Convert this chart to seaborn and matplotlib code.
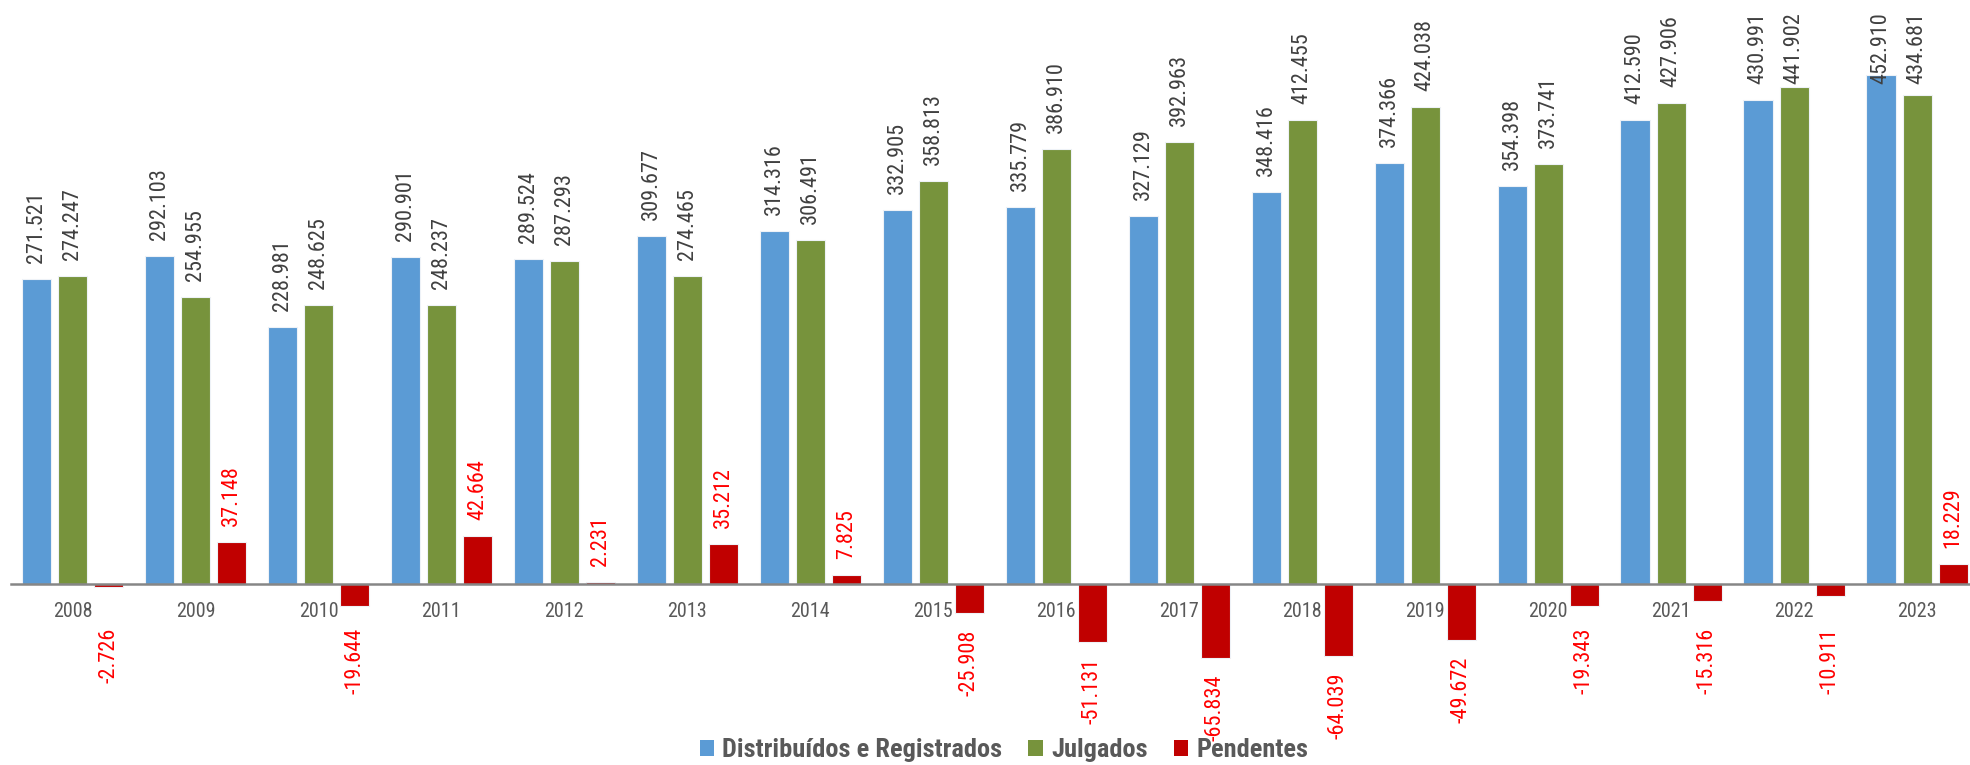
import pandas as pd
import matplotlib
matplotlib.use("Agg")
import matplotlib.pyplot as plt
import seaborn as sns
from matplotlib.patches import Patch

# dados
anos = ['2008', '2009', '2010', '2011', '2012', '2013', '2014', '2015',
        '2016', '2017', '2018', '2019', '2020', '2021', '2022', '2023']
distribuidos = [271521, 292103, 228981, 290901, 289524, 309677, 314316, 332905,
                335779, 327129, 348416, 374366, 354398, 412590, 430991, 452910]
julgados = [274247, 254955, 248625, 248237, 287293, 274465, 306491, 358813,
            386910, 392963, 412455, 424038, 373741, 427906, 441902, 434681]
pendentes = [-2726, 37148, -19644, 42664, 2231, 35212, 7825, -25908,
             -51131, -65834, -64039, -49672, -19343, -15316, -10911, 18229]
series = ['Distribuídos e Registrados', 'Julgados', 'Pendentes']
cores = ['#5B9BD5', '#77933C', '#C00000']

df = pd.DataFrame({
    'Ano': anos * 3,
    'Serie': [series[0]] * 16 + [series[1]] * 16 + [series[2]] * 16,
    'Valor': distribuidos + julgados + pendentes,
})

sns.set_style('white')
plt.rcParams['font.family'] = ['Roboto Condensed', 'DejaVu Sans']

fig = plt.figure(figsize=(19.7, 7.65), dpi=100)
ax = fig.add_axes([11 / 1970, 0, 1 - 11 / 1970, 1])

sns.barplot(data=df, x='Ano', y='Valor', hue='Serie', palette=cores,
            saturation=1, width=0.88, gap=0.19, ax=ax, legend=False,
            edgecolor='#EEF2F7', linewidth=0.8)

ax.set_xlim(-0.5, 15.43)
ax.set_ylim(-161000, 519600)
ax.set_xlabel('')
ax.set_ylabel('')
ax.set_yticks([])
for s in ['top', 'right', 'left']:
    ax.spines[s].set_visible(False)
ax.spines['bottom'].set_position(('data', 0))
ax.spines['bottom'].set_color('#868686')
ax.spines['bottom'].set_linewidth(1.8)
ax.tick_params(axis='x', length=0, pad=13, labelsize=14.5, labelcolor='#595959')

def fmt(v):
    return f"{v:,}".replace(",", ".")

# rótulos de dados
rotulos = []
for cont, cor_txt in zip(ax.containers, ['#404040', '#404040', '#FF0000']):
    for barra in cont:
        v = barra.get_height()
        x = barra.get_x() + barra.get_width() / 2
        if v >= 0:
            t = ax.annotate(fmt(int(round(v))), (x, v), xytext=(0, 11.5),
                            textcoords='offset points', rotation=90,
                            ha='center', va='bottom', fontsize=16, color=cor_txt)
            rotulos.append(t)
        else:
            y = min(v, -24000)
            ax.annotate(fmt(int(round(v))), (x, y), xytext=(0, -12),
                        textcoords='offset points', rotation=90,
                        ha='center', va='top', fontsize=16, color=cor_txt)

# empurra para baixo os rótulos que passam do topo (como no Excel)
fig.canvas.draw()
limite = fig.bbox.height - 12
for t in rotulos:
    bb = t.get_window_extent()
    if bb.y1 > limite:
        excesso = (bb.y1 - limite) * 72 / fig.dpi
        t.xyann = (0, 11.5 - excesso)

handles = [Patch(facecolor=c, edgecolor='none') for c in cores]
leg = fig.legend(handles, series, loc='center', bbox_to_anchor=(0.5096, 15 / 765),
                 ncol=3, frameon=False, handlelength=0.55, handleheight=0.55,
                 handletextpad=0.3, columnspacing=1.0,
                 prop={'weight': 'bold', 'size': 19})
for t in leg.get_texts():
    t.set_color('#595959')

fig.savefig('out.png', dpi=100)
